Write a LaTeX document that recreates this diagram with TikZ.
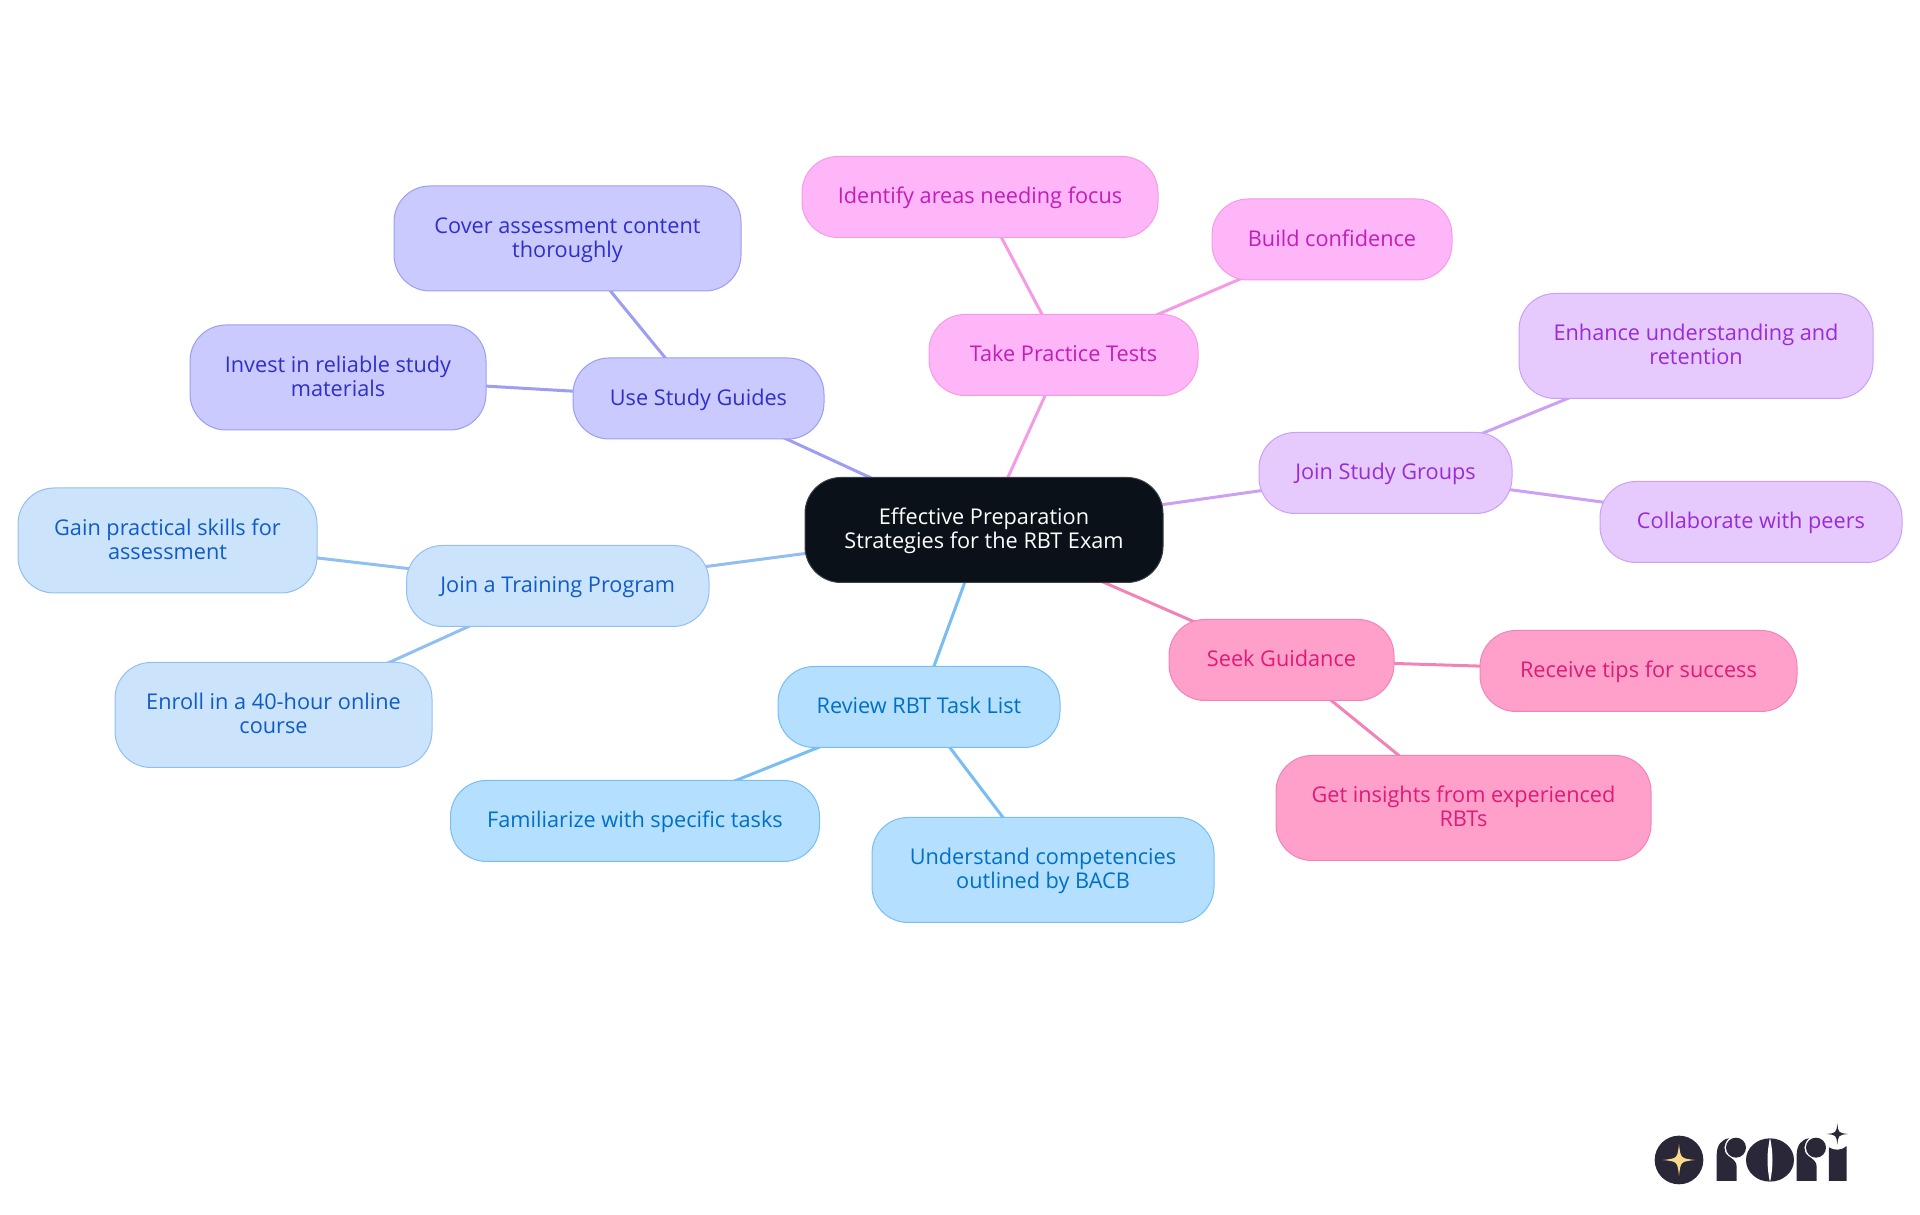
\documentclass[tikz,border=0pt]{standalone}
\usepackage{fontspec}
\setmainfont{Open Sans}
\usetikzlibrary{positioning,backgrounds}
\definecolor{rootFill}{HTML}{0A1119}
\definecolor{rootLine}{HTML}{3A3F45}
\definecolor{logoDark}{HTML}{2A2838}
\definecolor{logoStar}{HTML}{FAD98C}
\definecolor{guideFill}{HTML}{CACAFE}
\definecolor{guideLine}{HTML}{9D9DF5}
\definecolor{guideText}{HTML}{2F2FCB}
\definecolor{trainFill}{HTML}{CCE3FC}
\definecolor{trainLine}{HTML}{92BFF2}
\definecolor{trainText}{HTML}{0F5CC8}
\definecolor{taskFill}{HTML}{B4DFFF}
\definecolor{taskLine}{HTML}{78BEF2}
\definecolor{taskText}{HTML}{0070C4}
\definecolor{seekFill}{HTML}{FFA0CB}
\definecolor{seekLine}{HTML}{F283B7}
\definecolor{seekText}{HTML}{E01A78}
\definecolor{groupFill}{HTML}{E6CAFE}
\definecolor{groupLine}{HTML}{CBA0F5}
\definecolor{groupText}{HTML}{9A2BD6}
\definecolor{testFill}{HTML}{FFB6F8}
\definecolor{testLine}{HTML}{F59BE6}
\definecolor{testText}{HTML}{C31DB8}
\tikzset{
  bubble/.style={rounded corners=36pt, line width=1pt, align=center, inner sep=0pt, outer sep=0pt,
                 minimum height=81pt, font=\fontsize{21.7}{24}\selectfont,
                 execute at begin node={\rule{0pt}{18.5pt}}, execute at end node={\rule[-5pt]{0pt}{5pt}}},
  twoline/.style={minimum height=105pt, execute at begin node={\rule{0pt}{46pt}},
                  execute at end node={\rule[-8pt]{0pt}{8pt}}},
  topic/.style={bubble, draw=rootLine, fill=rootFill, text=white},
  guide/.style={bubble, draw=guideLine, fill=guideFill, text=guideText},
  train/.style={bubble, draw=trainLine, fill=trainFill, text=trainText},
  task/.style={bubble, draw=taskLine, fill=taskFill, text=taskText},
  seek/.style={bubble, draw=seekLine, fill=seekFill, text=seekText},
  group/.style={bubble, draw=groupLine, fill=groupFill, text=groupText},
  test/.style={bubble, draw=testLine, fill=testFill, text=testText},
  link/.style={line width=3pt},
  sparkle/.pic={
    \fill (0,1) .. controls (0.1,0.1) .. (1,0) .. controls (0.1,-0.1) .. (0,-1)
      .. controls (-0.1,-0.1) .. (-1,0) .. controls (-0.1,0.1) .. (0,1) -- cycle;
  },
}
\begin{document}
\begin{tikzpicture}[x=1pt, y=1pt]
        \useasboundingbox (0,0) rectangle (1920,1215);
        \node[topic, twoline, minimum width=358pt] (root) at (984,685) {Effective Preparation\\Strategies for the RBT Exam};

        \node[guide, minimum width=251pt, above=38.5pt of root, xshift=-285.5pt] (study) {Use Study Guides};
        \node[guide, twoline, minimum width=347pt, above left=67pt and -168pt of study] (cover) {Cover assessment content\\thoroughly};
        \node[guide, twoline, minimum width=296pt, above left=-72pt and 87pt of study] (invest) {Invest in reliable study\\materials};

        \node[train, minimum width=302.5pt, below left=-37pt and 96pt of root] (program) {Join a Training Program};
        \node[train, twoline, minimum width=299pt, above left=-47.5pt and 89.5pt of program] (gain) {Gain practical skills for\\assessment};
        \node[train, twoline, minimum width=317pt, below left=36pt and -25.5pt of program] (enroll) {Enroll in a 40-hour online\\course};

        \node[task, minimum width=282pt, below=84pt of root, xshift=-65pt] (review) {Review RBT Task List};
        \node[task, minimum width=369pt, below left=33pt and -41.5pt of review] (familiar) {Familiarize with specific tasks};
        \node[task, twoline, minimum width=342pt, below right=70pt and -188pt of review] (compet) {Understand competencies\\outlined by BACB};

        \node[seek, minimum width=225pt, below right=37pt and 6pt of root] (guidance) {Seek Guidance};
        \node[seek, minimum width=317pt, right=86pt of guidance, yshift=-11pt] (tips) {Receive tips for success};
        \node[seek, twoline, minimum width=375pt, below right=55pt and -118pt of guidance] (insight) {Get insights from experienced\\RBTs};

        \node[group, minimum width=253pt, above right=-36pt and 96pt of root] (groups) {Join Study Groups};
        \node[group, twoline, minimum width=354pt, above right=34pt and 7pt of groups] (retain) {Enhance understanding and\\retention};
        \node[group, minimum width=302pt, below right=-32pt and 88pt of groups] (peers) {Collaborate with peers};

        \node[test, minimum width=269pt, above=82pt of root, xshift=79.5pt] (tests) {Take Practice Tests};
        \node[test, minimum width=356pt, above left=77pt and -229pt of tests] (focus) {Identify areas needing focus};
        \node[test, minimum width=240pt, above right=34.5pt and 14pt of tests] (confid) {Build confidence};

        \begin{scope}[on background layer]
          \draw[link, guideLine] (root.center) -- (study.center);
          \draw[link, guideLine] (study.center) -- (cover.center);
          \draw[link, guideLine] (study.center) -- (invest.center);
          \draw[link, trainLine] (root.center) -- (program.center);
          \draw[link, trainLine] (program.center) -- (gain.center);
          \draw[link, trainLine] (program.center) -- (enroll.center);
          \draw[link, taskLine] (root.center) -- (review.center);
          \draw[link, taskLine] (review.center) -- (familiar.center);
          \draw[link, taskLine] (review.center) -- (compet.center);
          \draw[link, seekLine] (root.center) -- (guidance.center);
          \draw[link, seekLine] (guidance.center) -- (tips.center);
          \draw[link, seekLine] (guidance.center) -- (insight.center);
          \draw[link, groupLine] (root.center) -- (groups.center);
          \draw[link, groupLine] (groups.center) -- (retain.center);
          \draw[link, groupLine] (groups.center) -- (peers.center);
          \draw[link, testLine] (root.center) -- (tests.center);
          \draw[link, testLine] (tests.center) -- (focus.center);
          \draw[link, testLine] (tests.center) -- (confid.center);
        \end{scope}

        \begin{scope}[shift={(1620,115)}, x=0.3333pt, y=-0.3333pt, fill=logoDark]
          \fill (177,180) circle [x radius=73, y radius=73];
          \pic[fill=logoStar, scale=48] at (177,180) {sparkle};
          \foreach \dx in {0,240} {
            \fill[xshift=\dx*0.3333pt] (290,243) -- (290,165) .. controls (290,135) and (305,118) .. (327,115)
              .. controls (310,130) and (308,155) .. (325,168) .. controls (340,178) and (350,185) .. (350,200) -- (350,243) -- cycle;
            \fill[xshift=\dx*0.3333pt] (348,143) circle [x radius=30, y radius=30];
          }
          \fill (450,180) circle [x radius=72, y radius=65];
          \fill[white] (450,113) .. controls (440,160) and (440,200) .. (450,247) .. controls (460,200) and (460,160) .. (450,113) -- cycle;
          \fill (627,243) -- (627,142) .. controls (640,152) and (667,152) .. (680,138) -- (680,243) -- cycle;
          \pic[scale=32] at (652,102) {sparkle};
        \end{scope}
      \end{tikzpicture}
\end{document}
